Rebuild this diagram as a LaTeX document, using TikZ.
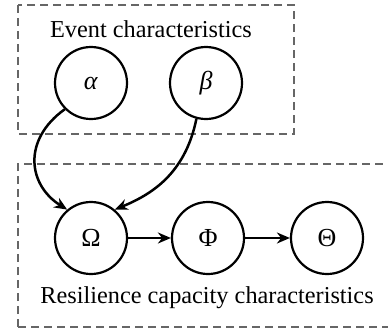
\documentclass[tikz,border=0pt]{standalone}
\usepackage{fontspec}
\setmainfont{Liberation Serif}
\usetikzlibrary{arrows.meta}
\begin{document}
\begin{tikzpicture}[x=1pt,y=-1pt,
  var/.style={circle,draw,line width=2.2pt,minimum size=72pt,inner sep=0pt,font=\fontsize{26}{30}\selectfont},
  grp/.style={draw=black!60,line width=2pt,dash pattern=on 8pt off 5pt},
  lbl/.style={font=\fontsize{24.3}{28}\selectfont},
  link/.style={line width=2.5pt,-{Stealth[length=13pt,width=11pt]}}]
\useasboundingbox (0,0) rectangle (388,335);
\draw[grp] (18,5) rectangle (294,134);
\draw[grp] (18,327) -- (18,164) -- (392,164);
\draw[grp] (18,327) -- (392,327);
\node[lbl] (ev) at (151,29) {Event characteristics};
\node[lbl] (rc) at (207,298) {Resilience capacity characteristics};
\node[var] (a) at (91,83) {\textit{α}};
\node[var] (b) at (206,83) {\textit{β}};
\node[var] (O) at (91,238) {Ω};
\node[var] (P) at (208,238) {Φ};
\node[var] (T) at (327,238) {Θ};
\draw[link] (a.225) .. controls (22,140) and (28,185) .. (O.130);
\draw[link] (b.255) .. controls (185,175) and (150,195) .. (O.50);
\draw[link] (O) -- (P);
\draw[link] (P) -- (T);
\end{tikzpicture}
\end{document}
